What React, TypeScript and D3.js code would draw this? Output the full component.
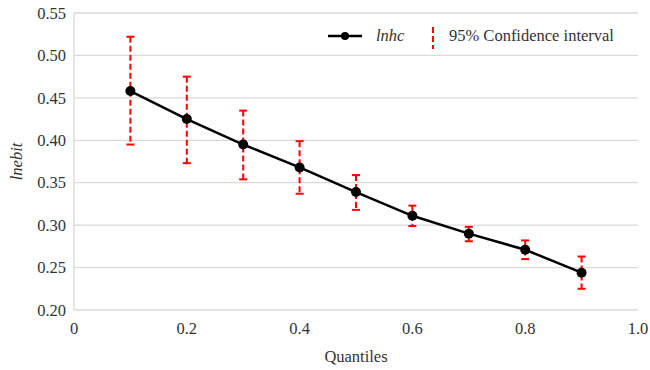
import { useRef, useEffect } from "react";
import * as d3 from "d3";

const quantiles = [0.1, 0.2, 0.3, 0.4, 0.5, 0.6, 0.7, 0.8, 0.9];
const estimates = [0.458, 0.425, 0.395, 0.368, 0.339, 0.311, 0.290, 0.271, 0.244];
const lowerCI = [0.395, 0.373, 0.354, 0.337, 0.318, 0.299, 0.281, 0.260, 0.225];
const upperCI = [0.522, 0.475, 0.435, 0.399, 0.359, 0.323, 0.298, 0.282, 0.263];
const xTicks = [0, 0.2, 0.4, 0.6, 0.8, 1.0];
const yTicks = [0.2, 0.25, 0.3, 0.35, 0.4, 0.45, 0.5, 0.55];

export default function App() {
  const ref = useRef<SVGSVGElement>(null);

  useEffect(() => {
    document.body.style.margin = "0";
    const svg = d3.select(ref.current);
    svg.selectAll("*").remove();

    const width = 650;
    const height = 370;
    const margin = { top: 13, right: 12, bottom: 60, left: 74 };
    const font = "Liberation Serif, serif";
    const fontSize = "16.5px";
    const textColor = "#333";

    svg.attr("width", width).attr("height", height);

    const x = d3.scaleLinear()
      .domain([0, 1])
      .range([margin.left, width - margin.right]);

    const y = d3.scaleLinear()
      .domain([0.2, 0.55])
      .range([height - margin.bottom, margin.top]);

    // gridlines
    svg.append("g")
      .selectAll("line")
      .data(yTicks)
      .enter()
      .append("line")
      .attr("x1", x(0))
      .attr("x2", x(1))
      .attr("y1", d => y(d))
      .attr("y2", d => y(d))
      .attr("stroke", "#d9d9d9")
      .attr("stroke-width", 1.3);

    // left axis line
    svg.append("line")
      .attr("x1", x(0))
      .attr("x2", x(0))
      .attr("y1", y(0.2))
      .attr("y2", y(0.55))
      .attr("stroke", "#d9d9d9")
      .attr("stroke-width", 1.3);

    // y tick labels
    svg.append("g")
      .selectAll("text")
      .data(yTicks)
      .enter()
      .append("text")
      .attr("x", x(0) - 8)
      .attr("y", d => y(d))
      .attr("dy", "0.35em")
      .attr("text-anchor", "end")
      .attr("font-family", font)
      .attr("font-size", fontSize)
      .attr("fill", textColor)
      .text(d => d3.format(".2f")(d));

    // x tick labels
    svg.append("g")
      .selectAll("text")
      .data(xTicks)
      .enter()
      .append("text")
      .attr("x", d => x(d))
      .attr("y", y(0.2) + 24)
      .attr("text-anchor", "middle")
      .attr("font-family", font)
      .attr("font-size", fontSize)
      .attr("fill", textColor)
      .text(d => (d === 0 ? "0" : d3.format(".1f")(d)));

    // axis titles
    svg.append("text")
      .attr("x", (x(0) + x(1)) / 2)
      .attr("y", 362)
      .attr("text-anchor", "middle")
      .attr("font-family", font)
      .attr("font-size", fontSize)
      .attr("fill", textColor)
      .text("Quantiles");

    svg.append("text")
      .attr("transform", `translate(22,${(y(0.2) + y(0.55)) / 2}) rotate(-90)`)
      .attr("text-anchor", "middle")
      .attr("font-family", font)
      .attr("font-style", "italic")
      .attr("font-size", fontSize)
      .attr("fill", textColor)
      .text("lnebit");

    // confidence intervals
    const ci = svg.append("g");
    quantiles.forEach((q, i) => {
      const cx = x(q);
      ci.append("line")
        .attr("x1", cx)
        .attr("x2", cx)
        .attr("y1", y(upperCI[i]))
        .attr("y2", y(lowerCI[i]))
        .attr("stroke", "#ff0000")
        .attr("stroke-width", 2)
        .attr("stroke-dasharray", "6,3");
      [upperCI[i], lowerCI[i]].forEach(v => {
        ci.append("line")
          .attr("x1", cx - 4)
          .attr("x2", cx + 4)
          .attr("y1", y(v))
          .attr("y2", y(v))
          .attr("stroke", "#ff0000")
          .attr("stroke-width", 2);
      });
    });

    // main line
    const line = d3.line<number>()
      .x((_, i) => x(quantiles[i]))
      .y(d => y(d));

    svg.append("path")
      .datum(estimates)
      .attr("d", line)
      .attr("fill", "none")
      .attr("stroke", "#000")
      .attr("stroke-width", 2.5);

    svg.append("g")
      .selectAll("circle")
      .data(estimates)
      .enter()
      .append("circle")
      .attr("cx", (_, i) => x(quantiles[i]))
      .attr("cy", d => y(d))
      .attr("r", 5)
      .attr("fill", "#000");

    // legend
    const legend = svg.append("g");
    legend.append("line")
      .attr("x1", 328)
      .attr("x2", 362)
      .attr("y1", 36)
      .attr("y2", 36)
      .attr("stroke", "#000")
      .attr("stroke-width", 2.5);
    legend.append("circle")
      .attr("cx", 345)
      .attr("cy", 36)
      .attr("r", 4)
      .attr("fill", "#000");
    legend.append("text")
      .attr("x", 376)
      .attr("y", 41)
      .attr("font-family", font)
      .attr("font-style", "italic")
      .attr("font-size", fontSize)
      .attr("fill", textColor)
      .text("lnhc");
    legend.append("line")
      .attr("x1", 433)
      .attr("x2", 433)
      .attr("y1", 27)
      .attr("y2", 49)
      .attr("stroke", "#ff0000")
      .attr("stroke-width", 2)
      .attr("stroke-dasharray", "6,3");
    legend.append("text")
      .attr("x", 449)
      .attr("y", 41)
      .attr("font-family", font)
      .attr("font-size", fontSize)
      .attr("fill", textColor)
      .text("95% Confidence interval");
  }, []);

  return <svg ref={ref}></svg>;
}
